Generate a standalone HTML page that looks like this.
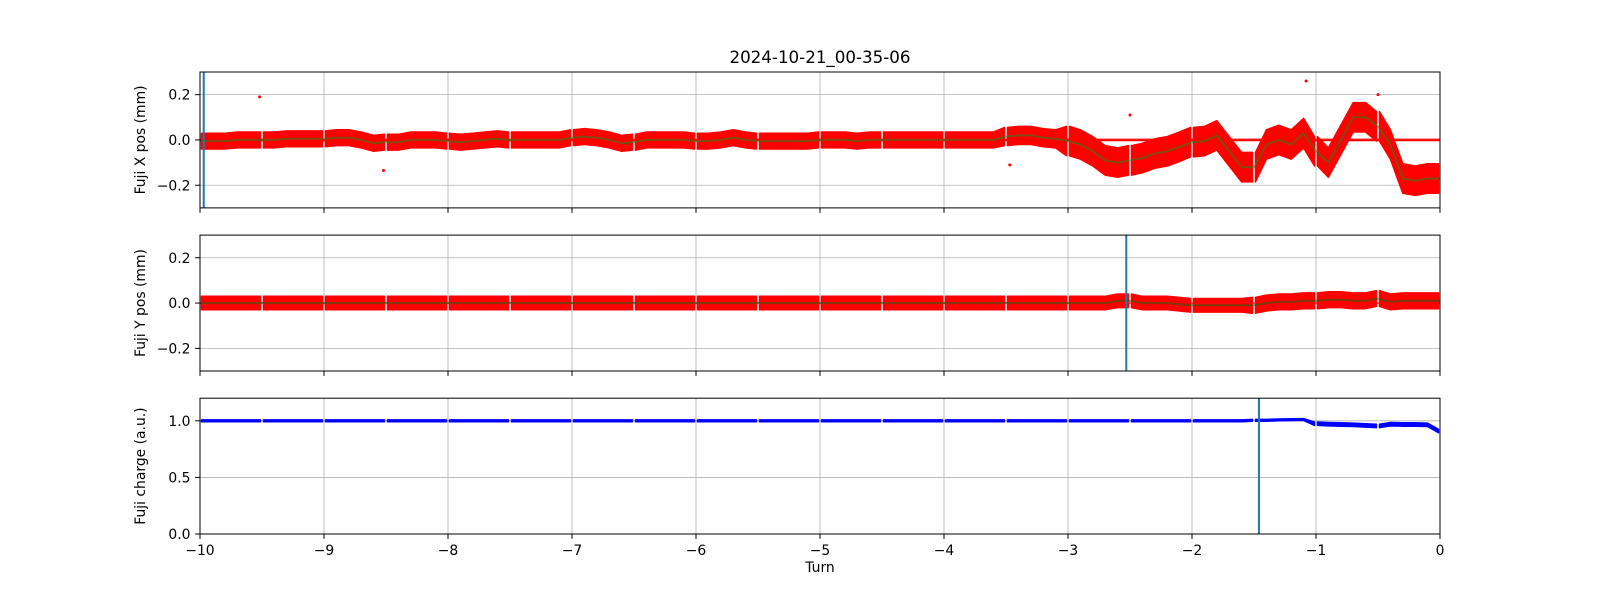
<!DOCTYPE html>
<html><head><meta charset="utf-8"><style>
html,body{margin:0;padding:0;background:#fff;}
svg{display:block;font-family:"DejaVu Sans","Liberation Sans",sans-serif;}
</style></head><body>
<svg id="fig" width="1600" height="600" viewBox="0 0 1600 600"></svg>
<script>
// ---- data ----
const turns = [];
for (let i = 0; i <= 100; i++) turns.push(-10 + i * 0.1);
const xCenter = [
-0.005,-0.005,-0.005,0,0,0,0,0.005,0.005,0.005,
0.005,0.01,0.01,0,-0.015,-0.01,-0.01,0,0,0,
-0.005,-0.01,-0.005,0,0.005,0,0,0,0,0,
0.01,0.015,0.01,0,-0.015,-0.01,0,0,0,0,
-0.005,-0.005,0,0.01,0,-0.005,-0.005,-0.005,-0.005,-0.005,
0,0,0,-0.005,0,0,0,0,0,0,
0,0,0,0,0,0.015,0.02,0.02,0.01,0.005,
-0.005,-0.02,-0.05,-0.09,-0.1,-0.09,-0.08,-0.06,-0.05,-0.03,
-0.01,-0.005,0.02,-0.05,-0.12,-0.12,-0.02,0,-0.02,0.03,
-0.05,-0.1,0.0,0.1,0.1,0.06,-0.02,-0.17,-0.18,-0.17,-0.17];
const xSpread = [];
for (let i = 0; i <= 100; i++) xSpread.push(i < 65 ? 0.035 : (i < 70 ? 0.04 : 0.065));
const yCenter = [
0,0,0,0,0,0,0,0,0,0, 0,0,0,0,0,0,0,0,0,0, 0,0,0,0,0,0,0,0,0,0,
0,0,0,0,0,0,0,0,0,0, 0,0,0,0,0,0,0,0,0,0, 0,0,0,0,0,0,0,0,0,0,
0,0,0,0,0,0,0,0,0,0, 0,0,0,0,0.01,0.01,0,0,0,-0.005,
-0.01,-0.01,-0.01,-0.01,-0.01,-0.01,0,0.005,0.005,0.01,
0.01,0.015,0.015,0.01,0.01,0.02,0.005,0.01,0.01,0.01,0.01];
const ySpread = [];
for (let i = 0; i <= 100; i++) ySpread.push(i < 85 ? 0.03 : 0.035);
const qCenter = [];
for (let i = 0; i <= 100; i++) qCenter.push(1.0);
const qOverride = {85:1.005,86:1.005,87:1.008,88:1.01,89:1.012,90:0.975,91:0.97,92:0.968,93:0.965,94:0.96,95:0.955,96:0.97,97:0.968,98:0.968,99:0.965,100:0.91};
const qSpread = [];
for (let i = 0; i <= 100; i++) qSpread.push(i < 90 ? 0.008 : 0.015);
const xOutT = [-9.52,-8.52,-1.08,-0.5,-2.5,-3.47];
const xOutV = [0.19,-0.135,0.26,0.2,0.11,-0.11];
const vlineX = -9.97, vlineY = -2.53, vlineQ = -1.46;
const xTicks = [-10,-9,-8,-7,-6,-5,-4,-3,-2,-1,0];
const posTicks = [-0.2,0.0,0.2];
const qTicks = [0.0,0.5,1.0];
for (const k in qOverride) qCenter[k] = qOverride[k];

// ---- layout ----
const NS = "http://www.w3.org/2000/svg";
const svg = document.getElementById('fig');
const L = 200, R = 1440;
const panels = [
 {top:72, bot:207.9, min:-0.3, max:0.3, name:'x-pos-panel', label:'Fuji X pos (mm)'},
 {top:235.1, bot:371, min:-0.3, max:0.3, name:'y-pos-panel', label:'Fuji Y pos (mm)'},
 {top:398.2, bot:534, min:0, max:1.2, name:'charge-panel', label:'Fuji charge (a.u.)'}
];
function sx(t){ return L + (t + 10) / 10 * (R - L); }
function sy(p, v){ return p.bot - (v - p.min) / (p.max - p.min) * (p.bot - p.top); }
function mk(tag, attrs, parent){
  const e = document.createElementNS(NS, tag);
  for (const k in attrs) e.setAttribute(k, attrs[k]);
  (parent || svg).appendChild(e);
  return e;
}
function fmt(v, d){ const s = Math.abs(v).toFixed(d); return (v < -1e-9 ? '\u2212' : '') + s; }

function band(p, g, center, spread, color, name){
  for (let s = 0; s < 20; s++){
    const a = -10 + s * 0.5 + 0.012, b = -10 + (s + 1) * 0.5 - 0.012;
    const up = [], lo = [];
    for (let i = 0; i <= 100; i++){
      let t = turns[i];
      if (t < a - 0.0999 || t > b + 0.0999) continue;
      const tt = Math.min(Math.max(t, a), b);
      up.push(sx(tt).toFixed(1) + ',' + sy(p, center[i] + spread[i]).toFixed(1));
      lo.unshift(sx(tt).toFixed(1) + ',' + sy(p, center[i] - spread[i]).toFixed(1));
    }
    const poly = mk('polygon', {points: up.concat(lo).join(' '), fill: color, stroke: color, 'stroke-width': 1.5, 'stroke-linejoin':'round'}, g);
    
    
  }
}
function fitLine(p, g, center, color, name){
  const pts = turns.map((t, i) => sx(t).toFixed(1) + ',' + sy(p, center[i]).toFixed(1)).join(' ');
  const pl = mk('polyline', {points: pts, fill: 'none', stroke: color, 'stroke-width': 2, opacity: 0.6}, g);
  
  
}

panels.forEach((p, pi) => {
  const g = mk('g', {});
  
  
  const ticks = pi < 2 ? posTicks : qTicks;
  // grid
  xTicks.forEach(t => {
    const l = mk('line', {x1: sx(t), x2: sx(t), y1: p.top, y2: p.bot, stroke: '#b0b0b0', 'stroke-width': 0.8}, g);
    
    
  });
  ticks.forEach(v => {
    const l = mk('line', {x1: L, x2: R, y1: sy(p, v), y2: sy(p, v), stroke: '#b0b0b0', 'stroke-width': 0.8}, g);
    
    
  });
  const clipId = 'clip' + pi;
  const cp = mk('clipPath', {id: clipId}, g);
  mk('rect', {x: L, y: p.top, width: R - L, height: p.bot - p.top}, cp);
  const dg = mk('g', {'clip-path': 'url(#' + clipId + ')'}, g);
  if (pi === 0){
    band(p, dg, xCenter, xSpread, '#ff0000', 'x-pos-scatter');
    xOutT.forEach((t, i) => {
      const c = mk('circle', {cx: sx(t), cy: sy(p, xOutV[i]), r: 1.5, fill: '#ff0000'}, dg);
      
      
    });
    [0.003, -0.003].forEach(v => {
      const l = mk('line', {x1: L, x2: R, y1: sy(p, v), y2: sy(p, v), stroke: '#ff0000', 'stroke-width': 1.2}, dg);
      
      
    });
    fitLine(p, dg, xCenter, '#2a7d1a', 'x-fit-line');
    const vl = mk('line', {x1: sx(vlineX), x2: sx(vlineX), y1: p.top, y2: p.bot, stroke: '#1f77b4', 'stroke-width': 2}, dg);
    
    
  } else if (pi === 1){
    band(p, dg, yCenter, ySpread, '#ff0000', 'y-pos-scatter');
    const l = mk('line', {x1: L, x2: R, y1: sy(p, 0), y2: sy(p, 0), stroke: '#ff0000', 'stroke-width': 1.2}, dg);
    
    
    fitLine(p, dg, yCenter, '#2a5d10', 'y-fit-line');
    const vl = mk('line', {x1: sx(vlineY), x2: sx(vlineY), y1: p.top, y2: p.bot, stroke: '#1f77b4', 'stroke-width': 2}, dg);
    
    
  } else {
    band(p, dg, qCenter, qSpread, '#0000ff', 'charge-scatter');
    const vl = mk('line', {x1: sx(vlineQ), x2: sx(vlineQ), y1: p.top, y2: p.bot, stroke: '#1f77b4', 'stroke-width': 2}, dg);
    
    
  }
  // frame
  const fr = mk('rect', {x: L, y: p.top, width: R - L, height: p.bot - p.top, fill: 'none', stroke: '#000', 'stroke-width': 1}, g);
  
  
  // x ticks
  xTicks.forEach(t => {
    const l = mk('line', {x1: sx(t), x2: sx(t), y1: p.bot, y2: p.bot + 4.9, stroke: '#000', 'stroke-width': 1}, g);
    
    
    if (pi === 2){
      const tx = mk('text', {x: sx(t), y: p.bot + 21, 'font-size': 13.9, 'text-anchor': 'middle', fill: '#000'}, g);
      tx.textContent = t === 0 ? '0' : fmt(t, 0);
      
      
    }
  });
  ticks.forEach(v => {
    const y = sy(p, v);
    const l = mk('line', {x1: L - 4.9, x2: L, y1: y, y2: y, stroke: '#000', 'stroke-width': 1}, g);
    
    
    const tx = mk('text', {x: L - 9.5, y: y + 5, 'font-size': 13.9, 'text-anchor': 'end', fill: '#000'}, g);
    tx.textContent = fmt(v, 1);
    
    
  });
  const cy = (p.top + p.bot) / 2;
  const yl = mk('text', {x: 0, y: 0, 'font-size': 13.9, 'text-anchor': 'middle', fill: '#000', transform: 'translate(145,' + cy + ') rotate(-90)'}, g);
  yl.textContent = p.label;
  
  
});
const title = mk('text', {x: 820, y: 63, 'font-size': 16.7, 'text-anchor': 'middle', fill: '#000'});
title.textContent = '2024-10-21_00-35-06';


const xl = mk('text', {x: 820, y: 572, 'font-size': 13.9, 'text-anchor': 'middle', fill: '#000'});
xl.textContent = 'Turn';


</script>
</body></html>
